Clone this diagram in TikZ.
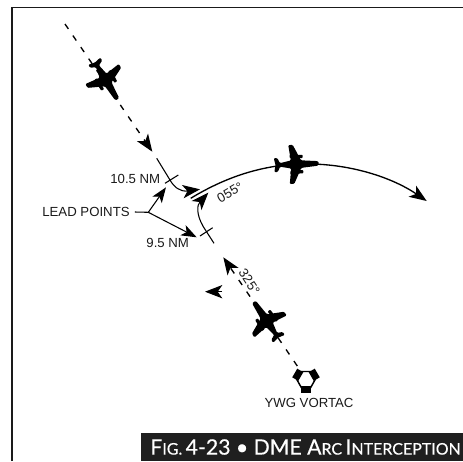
\documentclass[tikz,border=0pt]{standalone}
\usepackage{fontspec}
\setmainfont{Liberation Sans}
\newfontfamily\titlefont[FakeBold=0.4]{Lato}
\usetikzlibrary{arrows.meta,calc}
\definecolor{inkc}{HTML}{1A1A1A}
\newcommand{\capsb}[1]{{\fontsize{15.9pt}{18pt}\selectfont #1}}
\newcommand{\capss}[1]{{\fontsize{12pt}{18pt}\selectfont #1}}
\tikzset{
  x=.75pt,y=-.75pt,
  frameline/.style={draw=inkc,line width=1.1pt},
  track/.style={draw=black,line width=.8pt},
  dashtrack/.style={draw=black,line width=1pt,dash pattern=on 4.5pt off 6pt},
  tip/.style={-{Stealth[length=13pt,width=10pt,inset=3.5pt]}},
  smalltip/.style={-{Stealth[length=11.5pt,width=8.5pt,inset=3pt]}},
  lbl/.style={font=\fontsize{9.9pt}{11pt}\selectfont,text=inkc,inner sep=0pt},
  planepic/.pic={
    \fill[black,rounded corners=.8pt] (21,0) -- (20,2.3) -- (5,3.6) -- (3,4) -- (-4.5,19.5) -- (-9,19.5) -- (-7,4) -- (-18,1.8) -- (-20.5,7) -- (-24,7) -- (-22.5,0)
      -- (-24,-7) -- (-20.5,-7) -- (-18,-1.8) -- (-7,-4) -- (-9,-19.5) -- (-4.5,-19.5) -- (3,-4) -- (5,-3.6) -- (20,-2.3) -- cycle;
    \fill[black,rounded corners=.6pt] (-8,6.5) -- (5,6) -- (5,9.2) -- (-8,9.8) -- cycle;
    \fill[black,rounded corners=.6pt] (-8,-6.5) -- (5,-6) -- (5,-9.2) -- (-8,-9.8) -- cycle;
  }
}
\begin{document}
\begin{tikzpicture}
\useasboundingbox (0,0) rectangle (463,461);
% frame
\coordinate (fbl) at (11.8,461);
\coordinate (ftl) at (11.8,7.5);
\coordinate (ftr) at (463,7.5);
\draw[frameline] (fbl) -- (ftl) -- (ftr);
% caption
\node[fill=black!88,minimum width=241.5pt,minimum height=21pt,inner sep=0pt,anchor=south east] (bar) at (463,461) {};
\node[anchor=east,text=white,inner sep=0pt,font=\titlefont] (cap) at (461,447) {\capsb{F}\capss{IG.} \capsb{4-23 \textbullet{} DME A}\capss{RC} \capsb{I}\capss{NTERCEPTION}};
% planes
\pic[rotate=-59] at (106.7,81.7) {planepic};
\pic[rotate=2.3] at (298,164.2) {planepic};
\pic[rotate=124.3] at (265.5,319) {planepic};
% track 1
\coordinate (t1a) at (65,24);
\coordinate (t1b) at (152.3,151.7);
\draw[dashtrack] (t1a) -- ($(t1a)!.93!(t1b)$) coordinate (t1c);
\draw[tip,draw=black,line width=.8pt] (t1c) -- (t1b);
\coordinate (t1d) at (156.7,158.3);
\coordinate (t1e) at (200,189.3);
\draw[track,tip] (t1d) -- (170,180) .. controls (174,187) and (180,192) .. (t1e);
\coordinate (k1a) at (165,183.3);
\coordinate (k1b) at (178.3,175);
\draw[track] (k1a) -- (k1b);
% track 2
\coordinate (t2a) at (214,243.3);
\coordinate (t2b) at (208.3,192.7);
\draw[track,tip] (t2a) -- (203.3,226.7) .. controls (196,214) and (197,205) .. (t2b);
\coordinate (k2a) at (200,236);
\coordinate (k2b) at (212.7,227.7);
\draw[track] (k2a) -- (k2b);
% radial
\coordinate (v1) at (297.3,366);
\coordinate (v2) at (223.3,257.3);
\draw[dashtrack] (v1) -- ($(v1)!.9!(v2)$) coordinate (v3);
\draw[tip,draw=black,line width=.8pt] (v3) -- (v2);
% free arrowhead
\coordinate (h1) at (222,291.7);
\coordinate (h2) at (205,291.7);
\draw[tip,draw=black,line width=.8pt] (h1) -- (h2);
% arc
\coordinate (a1) at (190.7,198.3);
\coordinate (a2) at (298,164.2);
\coordinate (a3) at (426.7,201);
\draw[track,line width=1pt,tip] (a1) .. controls (224,178) and (260,165.5) .. (a2) .. controls (344,162) and (390,176) .. (a3);
% leader
\node[lbl] (lead) at (86,212) {LEAD POINTS};
\coordinate (j) at (148.3,212.3);
\coordinate (l1) at (166,187.3);
\coordinate (l2) at (196.7,237.3);
\draw[track] ($(lead.east)+(5,0)$) -- (j);
\draw[track,smalltip] (j) -- (l1);
\draw[track,smalltip] (j) -- (l2);
\node[lbl] (n105) at (135.3,179.3) {10.5 NM};
\node[lbl] (n95) at (167.7,243.3) {9.5 NM};
\node[lbl,rotate=30] (n055) at (230,192.3) {055°};
\node[lbl,rotate=-57] (n325) at (249.3,281.7) {325°};
\node[lbl] (ywg) at (309,403) {YWG VORTAC};
% VORTAC
\begin{scope}[shift={(306,379.5)}]
  \draw[black,line width=1.1pt] (-4.7,8) -- (4.7,8) -- (9.2,0) -- (4.7,-8) -- (-4.7,-8) -- (-9.2,0) -- cycle;
  \fill[black,rotate=0] (-5,6) rectangle (5,13);
  \fill[black,rotate=120] (-5,6) rectangle (5,13);
  \fill[black,rotate=240] (-5,6) rectangle (5,13);
\end{scope}
\end{tikzpicture}
\end{document}
